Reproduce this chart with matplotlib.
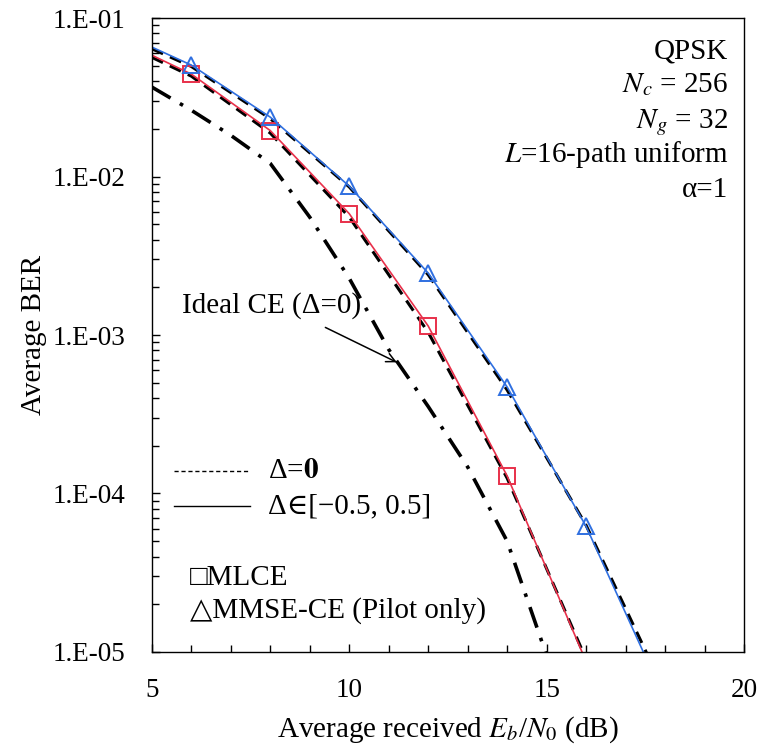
import math
import matplotlib
matplotlib.use('Agg')
import matplotlib.pyplot as plt
import matplotlib.ticker as mticker
from matplotlib.lines import Line2D

plt.rcParams['font.family'] = ['Liberation Serif', 'DejaVu Serif']
plt.rcParams['mathtext.fontset'] = 'stix'

# ── Data ─────────────────────────────────────────────────────────────────────
snr = [5, 6, 8, 10, 12, 14, 16, 18]
mlce_snr = [5, 6, 8, 10, 12, 14, 16]
mlce_rand = [0.0583, 0.0443, 0.0195, 0.00583, 0.00114, 1.29e-4, 8.7e-6]   # Δ∈[-0.5,0.5]
mlce_zero = [0.0565, 0.0430, 0.0188, 0.00555, 0.00104, 1.25e-4, 9.0e-6]   # Δ=0
mmse_rand = [0.0656, 0.0505, 0.0237, 0.0087, 0.00246, 4.7e-4, 6.2e-5, 5.0e-6]
mmse_zero = [0.0640, 0.0495, 0.0232, 0.0086, 0.00240, 4.5e-4, 6.3e-5, 5.6e-6]

ideal_snr = [5, 6, 7, 8, 9, 10, 11, 12, 13, 14, 15]
ideal_ber = [0.0367, 0.0262, 0.0182, 0.0121, 0.00554, 0.00228, 8.1e-4,
             3.54e-4, 1.47e-4, 5.0e-5, 9.5e-6]

RED = '#E8304A'
BLUE = '#2F6FE0'
FS = 21

fig = plt.figure(figsize=(7.67, 7.44), dpi=100)
ax = fig.add_axes([0.198, 0.1237, 0.772, 0.852])

# Ideal CE (dash-dot)
ax.plot(ideal_snr, ideal_ber, color='black', lw=2.6, ls=(0, (6, 3, 1, 3)))

# Δ=0 (thick black dashed)
ax.plot(mlce_snr, mlce_zero, color='black', lw=2.2, ls=(0, (4, 2.5)))
ax.plot(snr, mmse_zero, color='black', lw=2.2, ls=(0, (4, 2.5)))

# Δ∈[-0.5,0.5] (thin coloured solid + markers)
ax.plot(mlce_snr, mlce_rand, color=RED, lw=1.2, marker='s', ms=11,
        mfc='none', mec=RED, mew=1.4, markevery=list(range(1, 6)))
ax.plot(snr, mmse_rand, color=BLUE, lw=1.2, marker='^', ms=11,
        mfc='none', mec=BLUE, mew=1.4, markevery=list(range(1, 7)))

ax.set_yscale('log')
ax.set_xlim(5, 20)
ax.set_ylim(1e-5, 1e-1)
ax.xaxis.set_major_locator(mticker.FixedLocator([5, 10, 15, 20]))
ax.xaxis.set_minor_locator(mticker.MultipleLocator(1))
ax.yaxis.set_major_locator(mticker.LogLocator(base=10, numticks=10))
ax.yaxis.set_minor_locator(mticker.LogLocator(base=10, subs=range(2, 10), numticks=10))
ax.yaxis.set_minor_formatter(mticker.NullFormatter())
ax.yaxis.set_major_formatter(mticker.FuncFormatter(
    lambda v, p: '1.E-%02d' % round(-math.log10(v))))
ax.tick_params(which='both', direction='in', top=False, right=False,
               labelsize=19.5, width=1.0)
ax.tick_params(which='major', length=6)
ax.tick_params(which='minor', length=5)
ax.tick_params(axis='y', which='major', pad=19)
ax.tick_params(axis='x', which='major', pad=19)
for s in ax.spines.values():
    s.set_linewidth(1.0)

ax.set_ylabel('Average BER', fontsize=FS, labelpad=4)
ax.set_xlabel('Average received $E_b$/$N_0$ (dB)', fontsize=FS, labelpad=8)

# ── Parameter block ──────────────────────────────────────────────────────────
params = ['QPSK', '$N_c$ = 256', '$N_g$ = 32', '$L$=16-path uniform', 'α=1']
for txt, yy in zip(params, [0.937, 0.883, 0.826, 0.773, 0.718]):
    ax.text(0.973, yy, txt, transform=ax.transAxes, ha='right', va='baseline',
            fontsize=FS)

# ── Annotation ───────────────────────────────────────────────────────────────
ax.text(0.051, 0.536, 'Ideal CE (Δ=0)', transform=ax.transAxes,
        ha='left', va='baseline', fontsize=FS)
ax.annotate('', xy=(0.418, 0.455), xytext=(0.293, 0.512),
            xycoords='axes fraction', textcoords='axes fraction',
            arrowprops=dict(arrowstyle='->', color='black', lw=1.1,
                            mutation_scale=16, shrinkA=0))

# ── Legend (hand-built) ──────────────────────────────────────────────────────
ax.add_line(Line2D([0.037, 0.166], [0.2855, 0.2855], transform=ax.transAxes,
                   color='black', lw=1.0, ls=(0, (3, 2))))
ax.add_line(Line2D([0.037, 0.166], [0.230, 0.230], transform=ax.transAxes,
                   color='black', lw=1.0))
ax.text(0.196, 0.274, 'Δ=$\\mathbf{0}$', transform=ax.transAxes,
        ha='left', va='baseline', fontsize=FS)
ax.text(0.196, 0.219, 'Δ∈[−0.5, 0.5]', transform=ax.transAxes,
        ha='left', va='baseline', fontsize=FS)
ax.text(0.064, 0.106, '□MLCE', transform=ax.transAxes,
        ha='left', va='baseline', fontsize=FS)
ax.text(0.064, 0.054, '△MMSE-CE (Pilot only)', transform=ax.transAxes,
        ha='left', va='baseline', fontsize=FS)

plt.savefig('out.png', dpi=100)
plt.close()
